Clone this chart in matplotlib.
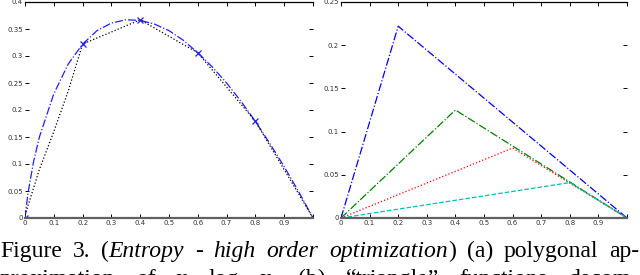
import numpy as np
import matplotlib
matplotlib.use('Agg')
from matplotlib import pyplot as plt

# (a) entropy curve and its polygonal approximation
curve_x = [0, 0.01, 0.03, 0.05, 0.1, 0.15, 0.2, 0.25, 0.3, 0.35, 0.4, 0.45,
           0.5, 0.55, 0.6, 0.65, 0.7, 0.75, 0.8, 0.85, 0.9, 0.95, 1.0]
curve_y = [0, 0.045, 0.105, 0.15, 0.23, 0.285, 0.322, 0.347, 0.361, 0.367,
           0.366, 0.359, 0.347, 0.329, 0.306, 0.28, 0.25, 0.216, 0.179,
           0.138, 0.095, 0.049, 0]
poly_x = [0, 0.05, 0.1, 0.15, 0.2, 0.4, 0.6, 0.8, 1.0]
poly_y = [0.005, 0.09, 0.16, 0.235, 0.322, 0.367, 0.306, 0.179, 0.0]
node_x = [0, 0.2, 0.4, 0.6, 0.8]
node_y = [0.0, 0.322, 0.367, 0.306, 0.179]

# (b) triangle functions: peak position and height
peak_x = [0.2, 0.4, 0.6, 0.8]
peak_y = [0.222, 0.125, 0.081, 0.041]
tri_colors = ['#0000ff', '#008000', '#ff0000', '#00bfbf']
tri_styles = ['-.', '-.', ':', '--']

xticks = [0, 0.1, 0.2, 0.3, 0.4, 0.5, 0.6, 0.7, 0.8, 0.9, 1.0]
xlabels = ['0', '0.1', '0.2', '0.3', '0.4', '0.5', '0.6', '0.7', '0.8', '0.9', '']
yticks_a = [0, 0.05, 0.1, 0.15, 0.2, 0.25, 0.3, 0.35, 0.4]
yticks_b = [0, 0.05, 0.1, 0.15, 0.2, 0.25]

caption1 = [[('Figure', 0)], [('3.', 0)], [('(', 0), ('Entropy', 1)], [('-', 0)],
            [('high', 1)], [('order', 1)], [('optimization', 1), (')', 0)],
            [('(a)', 0)], [('polygonal', 0)], [('ap-', 0)]]
caption2 = [[('proximation', 0)], [('of', 0)], [('x', 0)], [('log', 0)], [('x,', 0)],
            [('(b)', 0)], [('\u201ctriangle\u201d', 0)], [('functions', 0)],
            [('decom-', 0)]]

W, H = 640, 275
fig = plt.figure(figsize=(6.4, 2.75), dpi=100)
fig.patch.set_facecolor('white')

def make_axes(left, right):
    ax = fig.add_axes([left / W, (H - 218) / H, (right - left) / W, 216 / H])
    ax.spines['left'].set_visible(False)
    ax.spines['right'].set_visible(False)
    ax.spines['top'].set_linewidth(0.9)
    ax.spines['bottom'].set_linewidth(1.6)
    ax.spines['bottom'].set_color('#606060')
    ax.tick_params(direction='in', length=3, width=0.7, labelsize=5,
                   labelcolor='#333333', pad=1.5, top=True, right=True)
    ax.set_xticks(xticks)
    ax.set_xticklabels(xlabels)
    ax.set_xlim(0, 1)
    return ax

ax1 = make_axes(25, 313)
ax1.plot(curve_x, curve_y, '-.', color='#2020ff', lw=0.9)
ax1.plot(poly_x, poly_y, ':', color='black', lw=0.9)
ax1.plot(node_x, node_y, 'x', color='#2020ff', ms=4, mew=0.9)
ax1.set_yticks(yticks_a)
ax1.set_yticklabels(['0', '0.05', '0.1', '0.15', '0.2', '0.25', '0.3', '0.35', '0.4'])
ax1.set_ylim(0, 0.4)

ax2 = make_axes(341, 627)
for px, py, c, ls in zip(peak_x, peak_y, tri_colors, tri_styles):
    ax2.plot([0, px, 1], [0, py, 0], ls, color=c, lw=0.9)
ax2.set_yticks(yticks_b)
ax2.set_yticklabels(['0', '0.05', '0.1', '0.15', '0.2', '0.25'])
ax2.set_ylim(0, 0.25)

# justified caption lines
fig.canvas.draw()
renderer = fig.canvas.get_renderer()

def justified(words, baseline, size=17):
    items = []
    total = 0
    for word in words:
        parts = []
        for txt, it in word:
            t = fig.text(0, baseline / H, txt, family='Liberation Serif', fontsize=size,
                         style='italic' if it else 'normal', va='baseline')
            w = t.get_window_extent(renderer).width
            parts.append((t, w))
            total += w
        items.append(parts)
    gap = max((W - 1 - total) / (len(items) - 1), 4)
    x = 0
    for parts in items:
        for t, w in parts:
            t.set_x(x / W)
            x += w
        x += gap

justified(caption1, H - 257)
justified(caption2, H - 285)

fig.savefig('out.png', dpi=100)
